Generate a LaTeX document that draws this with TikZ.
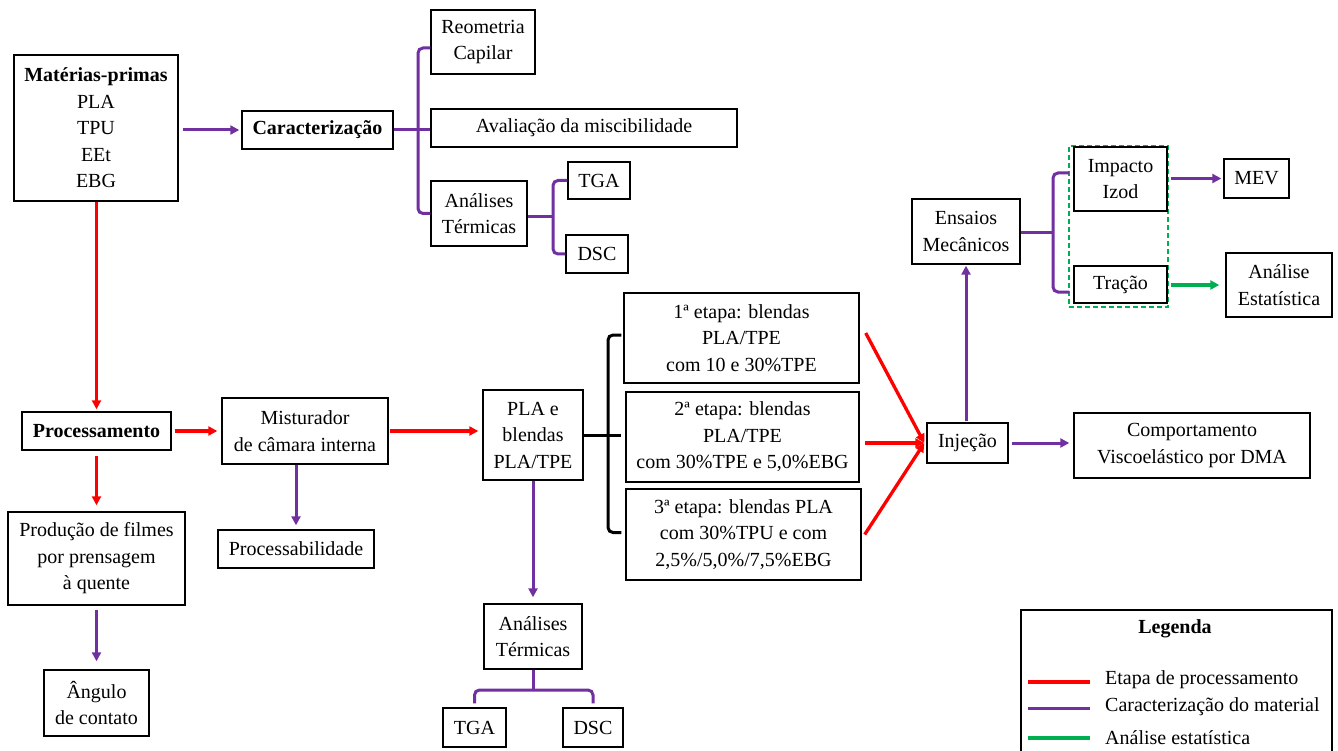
\documentclass[tikz,border=0pt]{standalone}
\usepackage{fontspec}
\setmainfont{Liberation Serif}
\usetikzlibrary{arrows.meta,calc}
\definecolor{pur}{RGB}{112,48,160}
\definecolor{rd}{RGB}{255,0,0}
\definecolor{gr}{RGB}{0,176,80}
\begin{document}
\begin{tikzpicture}[x=1pt,y=-1pt,
  box/.style={draw, line width=1.4pt, inner sep=0pt, align=center, font=\fontsize{20}{26.5}\selectfont},
  lbl/.style={inner sep=0pt, font=\fontsize{20}{26.5}\selectfont},
  ar/.style={-{Triangle[length=9pt,width=9pt]}},
  pu/.style={draw=pur, line width=3pt},
  re/.style={draw=rd, line width=3.3pt},
  gn/.style={draw=gr, line width=3.3pt},
  bk/.style={draw=black, line width=3pt}]
\useasboundingbox (0,0) rectangle (1338,751);
\fill[white] (0,0) rectangle (1338,751);

% nodes
\node[box, minimum width=164, minimum height=146] (mp) at (96,128) {\textbf{Matérias-primas}\\PLA\\TPU\\EEt\\EBG};
\node[box, minimum width=151, minimum height=38] (car) at (317.5,130) {\textbf{Caracterização}};
\node[box, minimum width=104, minimum height=64] (reo) at (483,42) {Reometria\\Capilar};
\node[box, minimum width=306, minimum height=38] (ava) at (584,128) {Avaliação da miscibilidade};
\node[box, minimum width=96, minimum height=65] (at1) at (479,213.5) {Análises\\Térmicas};
\node[box, minimum width=62, minimum height=37] (tga1) at (599,180.5) {TGA};
\node[box, minimum width=62, minimum height=38] (dsc1) at (597,254) {DSC};

\node[box, minimum width=108, minimum height=65] (ens) at (966,231.5) {Ensaios\\Mecânicos};
\node[draw=gr, line width=2.4pt, dash pattern=on 5pt off 3pt, minimum width=99, minimum height=161, inner sep=0pt] (grp) at (1118.5,226.5) {};
\node[box, minimum width=93, minimum height=64] (imp) at (1120.5,179) {Impacto\\Izod};
\node[box, minimum width=93, minimum height=37] (tra) at (1120.5,284.5) {Tração};
\node[box, minimum width=65, minimum height=39] (mev) at (1256.5,178.5) {MEV};
\node[box, minimum width=106, minimum height=64] (ana) at (1279,285) {Análise\\Estatística};

\node[box, minimum width=149, minimum height=38] (proc) at (96.5,431) {\textbf{Processamento}};
\node[box, minimum width=166, minimum height=66] (mis) at (305,431) {Misturador\\de câmara interna};
\node[box, minimum width=156, minimum height=38] (pab) at (296,549) {Processabilidade};
\node[box, minimum width=177, minimum height=93] (prod) at (96.5,558.5) {Produção de filmes\\por prensagem\\à quente};
\node[box, minimum width=105, minimum height=66] (ang) at (96.5,703) {Ângulo\\de contato};

\node[box, minimum width=100, minimum height=90] (pla) at (533,435) {PLA e\\blendas\\PLA/TPE};
\node[box, minimum width=235, minimum height=90] (s1) at (741.5,338) {1ª etapa: blendas\\PLA/TPE\\com 10 e 30\%TPE};
\node[box, minimum width=233, minimum height=90] (s2) at (742.5,437) {2ª etapa: blendas\\PLA/TPE\\com 30\%TPE e 5,0\%EBG};
\node[box, minimum width=235, minimum height=91] (s3) at (743.5,534.5) {3ª etapa: blendas PLA\\com 30\%TPU e com\\2,5\%/5,0\%/7,5\%EBG};
\node[box, minimum width=98, minimum height=65] (at2) at (533,636.5) {Análises\\Térmicas};
\node[box, minimum width=63, minimum height=39] (tga2) at (474.5,727.5) {TGA};
\node[box, minimum width=60, minimum height=39] (dsc2) at (593,727.5) {DSC};

\node[box, minimum width=81, minimum height=40] (inj) at (967.5,443) {Injeção};
\node[box, minimum width=236, minimum height=65] (dma) at (1192,445.5) {Comportamento\\Viscoelástico por DMA};

% legend
\node[draw, line width=1.4pt, minimum width=311, minimum height=150, inner sep=0pt] (leg) at (1176.5,685) {};
\node[lbl] (legt) at (1175,629) {\textbf{Legenda}};
\coordinate (l1a) at (1028,682); \coordinate (l1b) at (1090,682);
\coordinate (l2a) at (1028,708); \coordinate (l2b) at (1090,708);
\coordinate (l3a) at (1028,738); \coordinate (l3b) at (1090,738);
\draw[re] (l1a) -- (l1b);
\draw[pu] (l2a) -- (l2b);
\draw[gn] (l3a) -- (l3b);
\node[lbl, anchor=west] (lt1) at (1105,680) {Etapa de processamento};
\node[lbl, anchor=west] (lt2) at (1105,707) {Caracterização do material};
\node[lbl, anchor=west] (lt3) at (1105,738) {Análise estatística};

% connectors top
\draw[pu, ar, shorten <=4pt, shorten >=2pt] (mp.east |- car.west) -- (car.west);
\coordinate (b1) at (418,130);
\draw[pu] (car.east) -- (car.east -| ava.west);
\draw[pu, rounded corners=5pt] ([yshift=-6pt]reo.west) -| (b1) |- (at1.west);
\coordinate (b2) at (553,217);
\draw[pu] (at1.east |- b2) -- (b2);
\draw[pu, rounded corners=5pt] (tga1.west) -| (b2) |- (dsc1.west);

% mechanical
\coordinate (b3) at (1053,233);
\coordinate (e1) at (1069,173);
\coordinate (e2) at (1069,292);
\draw[pu] (ens.east |- b3) -- (b3);
\draw[pu, rounded corners=5pt] (e1) -| (b3) |- (e2);
\draw[pu, ar, shorten <=3pt, shorten >=2pt] (imp.east |- mev.west) -- (mev.west);
\draw[gn, ar, shorten <=3pt, shorten >=6pt] (tra.east |- ana.west) -- (ana.west);
\draw[pu, ar, shorten <=1pt, shorten >=1pt] (inj.north -| ens.south) -- (ens.south);
\draw[pu, ar, shorten <=3pt, shorten >=4pt] (inj.east) -- (inj.east -| dma.west);

% processing
\draw[re, ar, shorten >=2pt] (mp.south -| proc.north) -- (proc.north);
\draw[re, ar, shorten <=5pt, shorten >=6pt] (proc.south) -- (prod.north);
\draw[re, ar, shorten <=3pt, shorten >=4pt] (proc.east) -- (mis.west);
\draw[pu, ar, shorten >=4pt] (mis.south -| pab.north) -- (pab.north);
\draw[pu, ar, shorten <=4pt, shorten >=8pt] (prod.south) -- (ang.north);
\draw[re, ar, shorten <=1pt, shorten >=4pt] (mis.east) -- (mis.east -| pla.west);

% blends
\coordinate (b4) at (608,435);
\draw[bk] (pla.east) -- ([xshift=-4pt]pla.east -| s2.west);
\draw[bk, rounded corners=5pt] ([xshift=-2pt,yshift=3pt]s1.west) -| (b4) |- ([xshift=-4pt,yshift=2pt]s3.west);
\draw[re, ar] ([xshift=6pt,yshift=5pt]s1.east) -- ([xshift=-2pt]inj.west);
\draw[re, ar] ([xshift=5pt]s2.east |- inj.west) -- ([xshift=-2pt]inj.west);
\draw[re, ar] ([xshift=3pt]s3.east) -- ([xshift=-2pt]inj.west);

% bottom analyses
\draw[pu, ar, shorten >=6pt] (pla.south) -- (at2.north);
\coordinate (b5) at (533,690);
\draw[pu] (at2.south) -- (b5);
\draw[pu, rounded corners=5pt] ([yshift=4pt]tga2.north) |- (b5) -| ([yshift=4pt]dsc2.north);
\end{tikzpicture}
\end{document}
